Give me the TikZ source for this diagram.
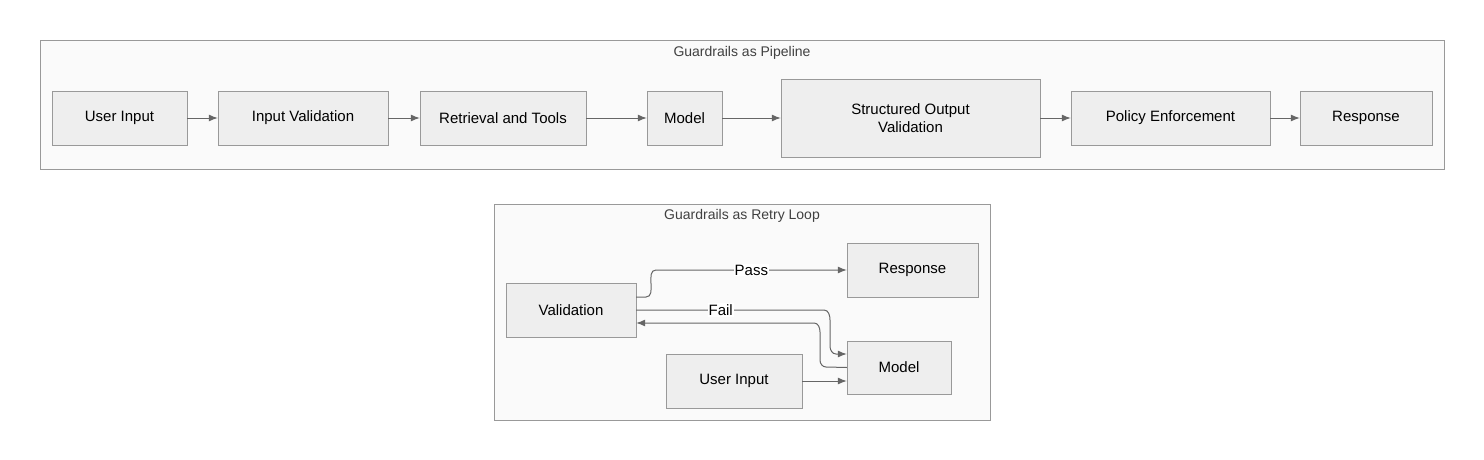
\documentclass[tikz,border=0pt]{standalone}
\usepackage{fontspec}
\setmainfont{Liberation Sans}
\usetikzlibrary{positioning, arrows.meta, calc}
\definecolor{boxfill}{HTML}{EEEEEE}
\definecolor{boxline}{HTML}{999999}
\definecolor{framefill}{HTML}{FAFAFA}
\definecolor{edgeline}{HTML}{666666}
\tikzset{
    box/.style={draw=boxline, fill=boxfill, inner sep=0pt, align=center, font=\fontsize{15}{18}\selectfont},
    frame/.style={draw=boxline, fill=framefill},
    title/.style={font=\fontsize{14}{17}\selectfont, text=black!75},
    flow/.style={draw=edgeline, line width=1pt, -{Latex[length=9pt,width=7pt]}},
    tag/.style={fill=white, inner sep=1pt, font=\fontsize{15}{18}\selectfont}
}
\begin{document}
\begin{tikzpicture}[x=1pt, y=-1pt]
        \useasboundingbox (0,0) rectangle (1484,460);
        % pipeline
        \begin{scope}
            \draw[frame] (40,40) rectangle (1444,169);
            \node[title] at (742,53) {Guardrails as Pipeline};
            \node[box, minimum width=135pt, minimum height=54pt] (input) at (119.5,118) {User Input};
            \node[box, minimum width=170pt, minimum height=54pt] (check) at (303,118) {Input Validation};
            \node[box, minimum width=166pt, minimum height=54pt] (tools) at (503,118) {Retrieval and Tools};
            \node[box, minimum width=75pt, minimum height=54pt] (model) at (684.5,118) {Model};
            \node[box, minimum width=259pt, minimum height=78pt] (struct) at (910.5,118) {Structured Output\\Validation};
            \node[box, minimum width=199pt, minimum height=54pt] (policy) at (1170.5,118) {Policy Enforcement};
            \node[box, minimum width=132pt, minimum height=54pt] (reply) at (1366,118) {Response};
            \foreach \a/\b in {input/check, check/tools, tools/model, model/struct, struct/policy, policy/reply}
                \draw[flow] (\a) -- (\b);
        \end{scope}
        % retry loop
        \begin{scope}
            \draw[frame] (494,204) rectangle (990,420);
            \node[title] at (742,216) {Guardrails as Retry Loop};
            \node[box, minimum width=130pt, minimum height=54pt] (valid) at (571,310) {Validation};
            \node[box, minimum width=131pt, minimum height=54pt] (done) at (912.5,270) {Response};
            \node[box, minimum width=104pt, minimum height=53pt] (llm) at (899,367.5) {Model};
            \node[box, minimum width=136pt, minimum height=54pt] (user) at (734,381) {User Input};
            \draw[flow] ($(valid.east)+(0,-13)$) -- (646,297) to[out=0,in=180] (656,270)
                -- node[tag] {Pass} (done.west |- 0,270);
            \draw[flow] (valid.east) -- node[tag, pos=0.45] {Fail} (824,310)
                to[out=0,in=90] (830,320) -- (830,346) to[out=-90,in=180] (836,354) -- (llm.west |- 0,354);
            \draw[flow] (llm.west) -- (826,367) to[out=180,in=-90] (820,360) -- (820,332)
                to[out=90,in=0] (814,323) -- (656,323) to[out=180,in=0] (valid.east |- 0,323);
            \draw[flow] (user) -- (llm.west |- user);
        \end{scope}
    \end{tikzpicture}
\end{document}
